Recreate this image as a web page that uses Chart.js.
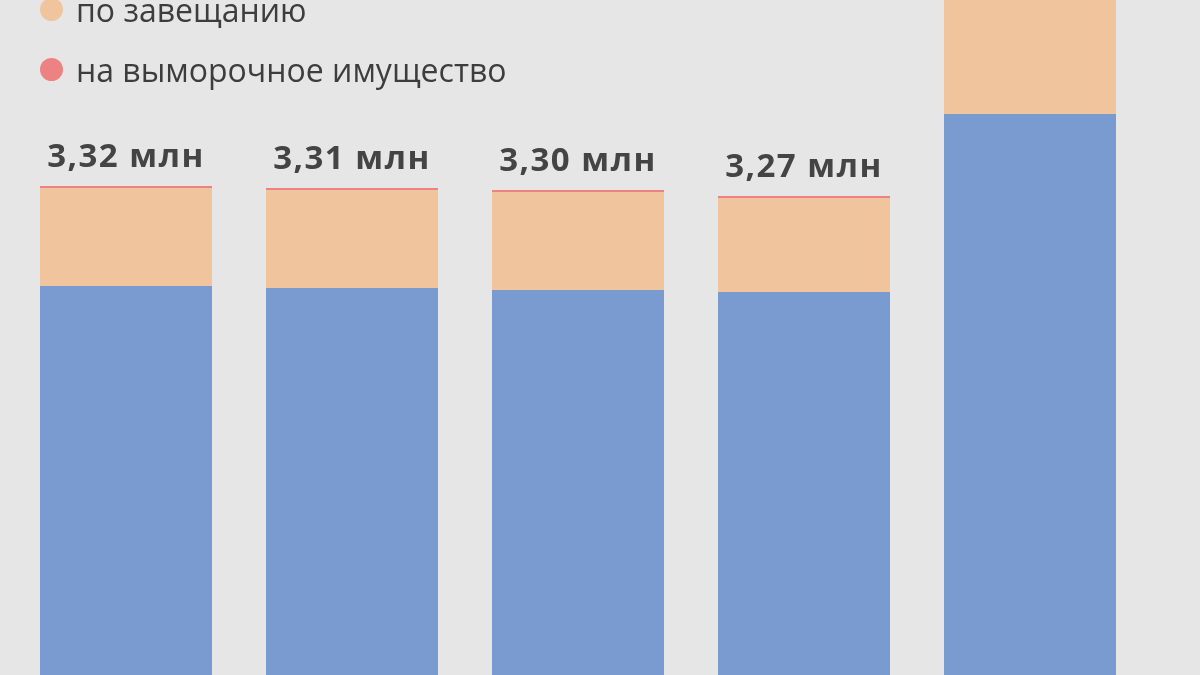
<!DOCTYPE html>
<html lang="ru">
<head>
<meta charset="utf-8">
<script src="https://cdn.jsdelivr.net/npm/chart.js@4.4.1/dist/chart.umd.min.js"></script>
<style>
  html, body { margin: 0; padding: 0; }
  body { width: 1200px; height: 675px; overflow: hidden; background: #e6e6e6; position: relative; font-family: "Open Sans", sans-serif; }
  #wrap { position: absolute; left: 0; top: -200px; width: 1200px; height: 1100px; }
  #legend { position: absolute; left: 0; top: 0; width: 1200px; height: 675px; pointer-events: none; }
  .item { position: absolute; left: 40px; height: 40px; display: flex; align-items: center; color: #3d3d3d; font-size: 32px; white-space: nowrap; }
  .dot { width: 23px; height: 23px; border-radius: 50%; margin-right: 13px; flex: none; }
</style>
</head>
<body>
<div id="wrap"><canvas id="c" width="1200" height="1100"></canvas></div>
<div id="legend"></div>
<script>
// ---- data ----
const categories = ["2020", "2021", "2022", "2023", "2024"];
const seriesNames = ["по закону", "по завещанию", "на выморочное имущество"];
const byLaw      = [2.82, 2.81, 2.80, 2.79, 3.68];   // млн
const byWill     = [0.49, 0.49, 0.49, 0.47, 0.60];   // млн
const escheat    = [0.01, 0.01, 0.01, 0.01, 0.01];   // млн
const colors     = ["#7a9bd0", "#f0c59e", "#ec8282"];

// ---- legend (HTML) ----
const legendEl = document.getElementById('legend');
const legendCenters = [-51, 9, 69];
seriesNames.forEach((name, i) => {
  const it = document.createElement('div');
  it.className = 'item';
  it.style.top = (legendCenters[i] - 20) + 'px';
  const d = document.createElement('span');
  d.className = 'dot';
  d.style.background = colors[i];
  const t = document.createElement('span');
  t.textContent = name;
  it.appendChild(d); it.appendChild(t);
  legendEl.appendChild(it);
});

// ---- total labels plugin ----
const totalLabels = {
  id: 'totalLabels',
  afterDatasetsDraw(chart) {
    const ctx = chart.ctx;
    const y = chart.scales.y;
    const lastMeta = chart.getDatasetMeta(chart.data.datasets.length - 1);
    ctx.save();
    ctx.font = '700 33px "Open Sans", sans-serif';
    ctx.fillStyle = '#444444';
    ctx.textAlign = 'center';
    ctx.textBaseline = 'alphabetic';
    try { ctx.letterSpacing = '1.5px'; } catch (e) {}
    categories.forEach((c, i) => {
      let total = 0;
      chart.data.datasets.forEach(ds => { total += ds.data[i]; });
      const x = lastMeta.data[i].x;
      const py = y.getPixelForValue(total);
      const txt = total.toFixed(2).replace('.', ',') + ' млн';
      ctx.fillText(txt, x, py - 19);
    });
    ctx.restore();
  }
};

new Chart(document.getElementById('c'), {
  type: 'bar',
  data: {
    labels: categories,
    datasets: [
      { label: seriesNames[0], data: byLaw,   backgroundColor: colors[0], borderWidth: 0 },
      { label: seriesNames[1], data: byWill,  backgroundColor: colors[1], borderWidth: 0 },
      { label: seriesNames[2], data: escheat, backgroundColor: colors[2], borderWidth: 0 }
    ]
  },
  options: {
    responsive: false,
    animation: false,
    devicePixelRatio: 1,
    layout: { padding: { left: 13, right: 57, top: 50, bottom: 50 } },
    datasets: { bar: { categoryPercentage: 1.0, barPercentage: 172 / 226 } },
    scales: {
      x: { stacked: true, display: false },
      y: { stacked: true, display: false, min: 0, max: 5 }
    },
    plugins: { legend: { display: false }, tooltip: { enabled: false } }
  },
  plugins: [totalLabels]
});
</script>
</body>
</html>
